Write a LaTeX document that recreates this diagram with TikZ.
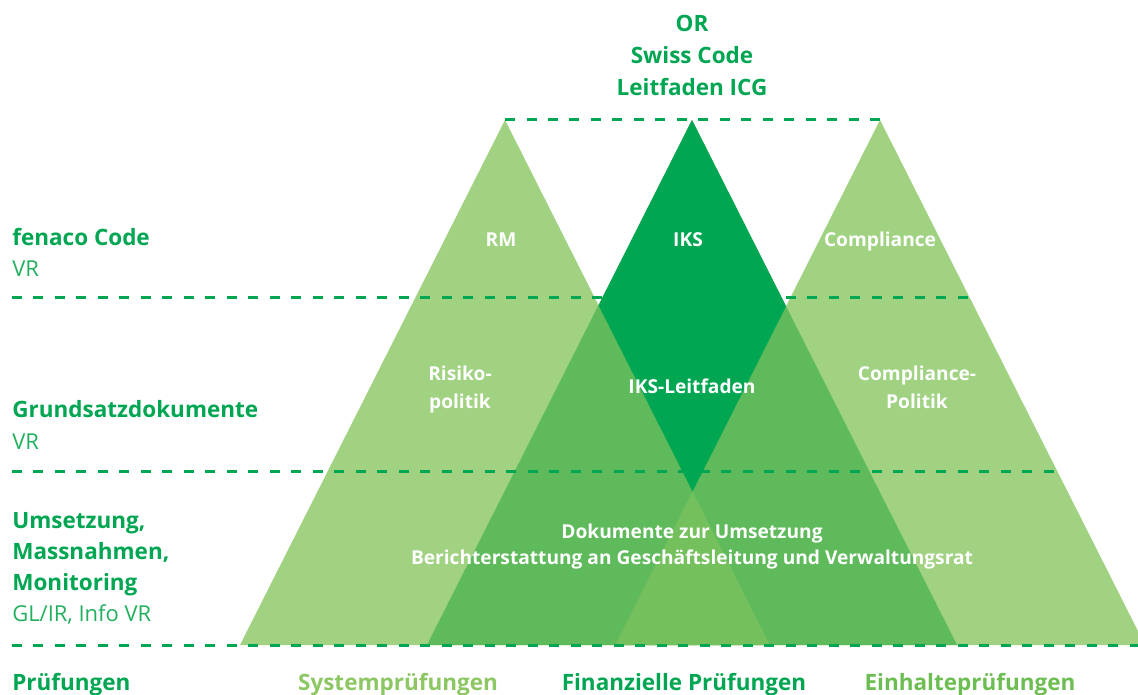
\documentclass[tikz,border=0pt]{standalone}
\usepackage{fontspec}
\setmainfont{Open Sans}
\definecolor{lightgr}{HTML}{A0D282}
\definecolor{midgr}{HTML}{5EBA5A}
\definecolor{darkgr}{HTML}{00A651}
\definecolor{coregr}{HTML}{74C05C}
\definecolor{sysgr}{HTML}{8DC764}
\definecolor{einhgr}{HTML}{6DBE52}
\definecolor{subgr}{HTML}{22B05E}
\tikzset{
  level/.style = {draw = darkgr, line width = 0.06cm, dash pattern = on 0.2cm off 0.23cm},
  head/.style = {anchor = base west, inner sep = 0, text = darkgr, font = \fontsize{12.8}{15}\selectfont\bfseries},
  sub/.style = {anchor = base west, inner sep = 0, text = subgr, font = \fontsize{12.5}{15}\selectfont},
  law/.style = {anchor = base, inner sep = 0, text = darkgr, font = \fontsize{12.8}{15}\selectfont\bfseries},
  inside/.style = {anchor = base, inner sep = 0, text = white, font = \fontsize{10.9}{12}\selectfont\bfseries},
  audit/.style = {anchor = base, inner sep = 0, font = \fontsize{12.8}{15}\selectfont\bfseries}
}
\begin{document}
\begin{tikzpicture}[x = 0.02cm, y = -0.02cm]
  \clip (0, 0) rectangle (1138, 695);
  % apices and base corners
  \coordinate (L) at (505, 120);
  \coordinate (M) at (692, 120);
  \coordinate (R) at (880, 120);
  \coordinate (L1) at (240, 645);
  \coordinate (L2) at (770, 645);
  \coordinate (M1) at (427, 645);
  \coordinate (M2) at (957, 645);
  \coordinate (R1) at (615, 645);
  \coordinate (R2) at (1145, 645);
  \coordinate (DL) at (intersection of L--L2 and M--M1);
  \coordinate (DR) at (intersection of M--M2 and R--R1);
  \coordinate (DB) at (intersection of L--L2 and R--R1);

  \fill[lightgr] (L) -- (L1) -- (L2) -- cycle;
  \fill[lightgr] (R) -- (R1) -- (R2) -- cycle;
  \fill[midgr] (M) -- (M1) -- (M2) -- cycle;
  \fill[darkgr] (M) -- (DL) -- (DB) -- (DR) -- cycle;
  \fill[coregr] (DB) -- (R1) -- (L2) -- cycle;

  % levels
  \coordinate (a1) at (12, 298);
  \coordinate (a2) at (970, 298);
  \coordinate (b1) at (12, 471);
  \coordinate (b2) at (1057, 471);
  \coordinate (c1) at (12, 645);
  \coordinate (c2) at (1138, 645);
  \draw[level] (L) -- (R);
  \draw[level] (a1) -- (a2);
  \draw[level] (b1) -- (b2);
  \draw[level] (c1) -- (c2);

  \node[law] (or) at (692, 32) {OR};
  \node[law] (swiss) at (692, 64) {Swiss Code};
  \node[law] (icg) at (692, 96) {Leitfaden ICG};

  \node[head] (fenaco) at (12, 246) {fenaco Code};
  \node[sub] (vr1) at (12, 277) {VR};
  \node[head] (grund) at (12, 418) {Grundsatzdokumente};
  \node[sub] (vr2) at (12, 449) {VR};
  \node[head] (ums) at (12, 528) {Umsetzung,};
  \node[head] (mass) at (12, 559) {Massnahmen,};
  \node[head] (moni) at (12, 590) {Monitoring};
  \node[sub] (glir) at (12, 621) {GL/IR, Info VR};
  \node[head] (pruef) at (12, 690) {Prüfungen};

  \node[inside] (rm) at (501, 247) {RM};
  \node[inside] (iks) at (688, 247) {IKS};
  \node[inside] (comp) at (880, 247) {Compliance};
  \node[inside] (risk1) at (460, 380) {Risiko-};
  \node[inside] (risk2) at (460, 408) {politik};
  \node[inside] (iksl) at (692, 394) {IKS-Leitfaden};
  \node[inside] (comp1) at (917, 380) {Compliance-};
  \node[inside] (comp2) at (917, 408) {Politik};
  \node[inside] (doc) at (692, 538) {Dokumente zur Umsetzung};
  \node[inside] (report) at (692, 564) {Berichterstattung an Geschäftsleitung und Verwaltungsrat};

  \node[audit, text = sysgr] (sys) at (398, 690) {Systemprüfungen};
  \node[audit, text = darkgr] (fin) at (684, 690) {Finanzielle Prüfungen};
  \node[audit, text = einhgr] (einh) at (970, 690) {Einhalteprüfungen};
\end{tikzpicture}
\end{document}
